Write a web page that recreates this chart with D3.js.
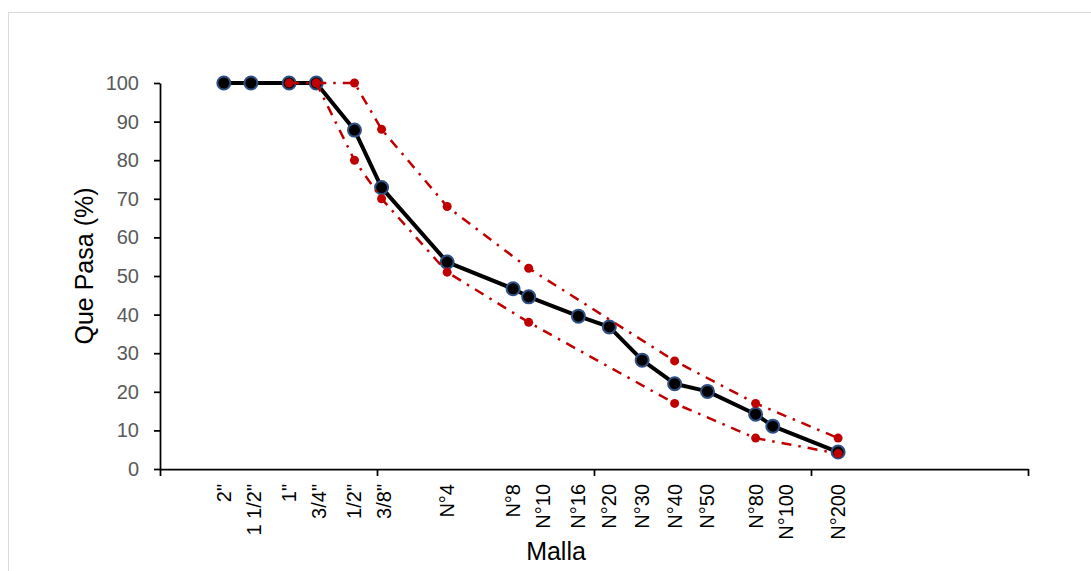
<!DOCTYPE html>
<html>
<head>
<meta charset="utf-8">
<script src="https://cdn.jsdelivr.net/npm/d3@7/dist/d3.min.js"></script>
<style>
  html, body { margin: 0; padding: 0; background: #fff; }
  svg { display: block; font-family: "Liberation Sans", Arial, sans-serif; }
</style>
</head>
<body>
<svg id="chart" width="1091" height="571"></svg>
<script>
// Sieve designations and their openings (mm)
const sieves   = ['2"', '1 1/2"', '1"', '3/4"', '1/2"', '3/8"', "N°4", "N°8", "N°10", "N°16", "N°20", "N°30", "N°40", "N°50", "N°80", "N°100", "N°200"];
const openings = [50.8, 38.1, 25.4, 19.05, 12.7, 9.525, 4.75, 2.36, 2.0, 1.18, 0.85, 0.6, 0.425, 0.3, 0.18, 0.15, 0.075];

// Percent passing of the sample
const passing = [100, 100, 100, 100, 87.8, 72.9, 53.6, 46.7, 44.6, 39.6, 36.8, 28.2, 22.1, 20.1, 14.2, 11.1, 4.4];

// Specification band (null where the band has no point)
const upperLimit = [null, null, null, 100, 100, 88, 68, null, 52, null, null, null, 28, null, 17, null, 8];
const lowerLimit = [null, null, 100, 100, 80, 70, 51, null, 38, null, null, null, 17, null, 8, null, 4];

// Y axis ticks
const yTicks = [0, 10, 20, 30, 40, 50, 60, 70, 80, 90, 100];
// Decade ticks of the sieve-opening axis
const xTicks = [100, 10, 1, 0.1, 0.01];

const svg = d3.select("#chart");

// Chart area frame
svg.append("rect")
  .attr("x", 8.5).attr("y", 12.5)
  .attr("width", 1100).attr("height", 600)
  .attr("fill", "#fff").attr("stroke", "#d9d9d9").attr("stroke-width", 1);

const x = d3.scaleLog().domain([100, 0.01]).range([160, 1028]);
const y = d3.scaleLinear().domain([0, 100]).range([469, 83]);

// Y axis
const yAxis = svg.append("g")
  .attr("transform", `translate(${x(100)},0)`)
  .call(d3.axisLeft(y).tickValues(yTicks).tickSize(6).tickSizeOuter(0).tickPadding(15));
yAxis.select(".domain").attr("stroke", "#000").attr("stroke-width", 1.75);
yAxis.selectAll(".tick line").attr("stroke", "#000").attr("stroke-width", 1.75);
yAxis.selectAll(".tick text")
  .attr("fill", "#595959")
  .style("font-size", "20px")
  .style("font-family", '"Liberation Sans", Arial, sans-serif');

// X axis (log, decreasing opening)
const xAxis = svg.append("g")
  .attr("transform", `translate(0,${y(0)})`)
  .call(d3.axisBottom(x).tickValues(xTicks).tickFormat("").tickSize(7).tickSizeOuter(0));
xAxis.select(".domain").attr("stroke", "#000").attr("stroke-width", 1.75);
xAxis.selectAll(".tick line").attr("stroke", "#000").attr("stroke-width", 1.75);

// Sieve labels, rotated; neighbours that would collide are pushed apart
const minGap = 30;
const labelX = [];
openings.forEach((o, i) => {
  let px = x(o);
  if (i > 0 && px - labelX[i - 1] < minGap) px = labelX[i - 1] + minGap;
  labelX.push(px);
});

svg.append("g").selectAll("text")
  .data(sieves)
  .join("text")
  .attr("transform", (d, i) => `translate(${labelX[i]},484) rotate(-90)`)
  .attr("text-anchor", "end")
  .attr("dy", "0.35em")
  .attr("fill", "#000")
  .style("font-size", "20px")
  .text(d => d);

// Axis titles
svg.append("text")
  .attr("x", 556).attr("y", 560)
  .attr("text-anchor", "middle")
  .style("font-size", "25px")
  .attr("fill", "#000")
  .text("Malla");

svg.append("text")
  .attr("transform", "translate(93,266) rotate(-90)")
  .attr("text-anchor", "middle")
  .style("font-size", "25px")
  .attr("fill", "#000")
  .text("Que Pasa (%)");

// Gradation curve
const pts = openings.map((o, i) => ({ o, v: passing[i] }));
const line = d3.line().x(d => x(d.o)).y(d => y(d.v));

svg.append("path")
  .datum(pts)
  .attr("fill", "none")
  .attr("stroke", "#000")
  .attr("stroke-width", 4)
  .attr("stroke-linejoin", "round")
  .attr("d", line);

svg.append("g").selectAll("circle")
  .data(pts)
  .join("circle")
  .attr("cx", d => x(d.o))
  .attr("cy", d => y(d.v))
  .attr("r", 6.5)
  .attr("fill", "#000")
  .attr("stroke", "#2f5085")
  .attr("stroke-width", 2);

// Specification limits
[upperLimit, lowerLimit].forEach(arr => {
  const lp = openings.map((o, i) => ({ o, v: arr[i] })).filter(d => d.v !== null);
  svg.append("path")
    .datum(lp)
    .attr("fill", "none")
    .attr("stroke", "#c00000")
    .attr("stroke-width", 2.5)
    .attr("stroke-dasharray", "10,7,2.5,7")
    .attr("d", line);
  svg.append("g").selectAll("circle")
    .data(lp)
    .join("circle")
    .attr("cx", d => x(d.o))
    .attr("cy", d => y(d.v))
    .attr("r", 4.5)
    .attr("fill", "#c00000");
});
</script>
</body>
</html>
